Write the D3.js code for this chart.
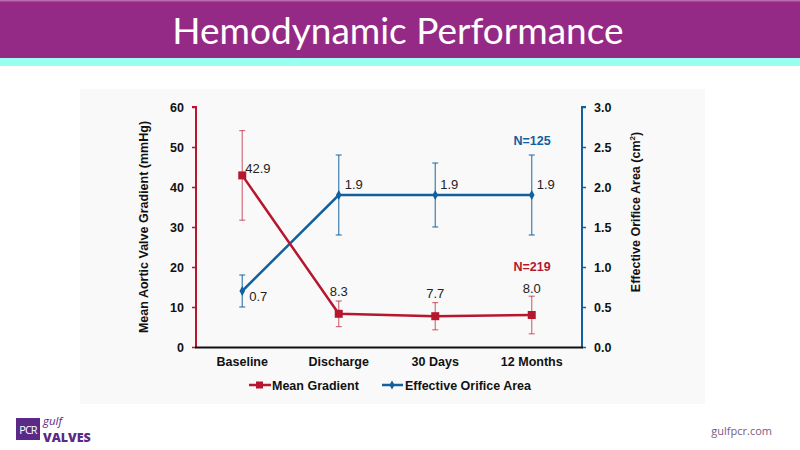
<!DOCTYPE html>
<html><head><meta charset="utf-8">
<script src="https://cdn.jsdelivr.net/npm/d3@7"></script>
<style>html,body{margin:0;padding:0;background:#fff;}svg{display:block;}</style>
</head><body>
<svg id="c" width="800" height="450"></svg>
<script>
const categories = ["Baseline", "Discharge", "30 Days", "12 Months"];
const gradientMean = [42.9, 8.3, 7.7, 8.0];
const gradientErr = [11.2, 3.2, 3.4, 4.7];
const eoaMean = [0.7, 1.9, 1.9, 1.9];
const eoaErr = [0.2, 0.5, 0.4, 0.5];
const gradientLabels = ["42.9", "8.3", "7.7", "8.0"];
const eoaLabels = ["0.7", "1.9", "1.9", "1.9"];
const leftTicks = [0, 10, 20, 30, 40, 50, 60];
const rightTicks = [0, 0.5, 1.0, 1.5, 2.0, 2.5, 3.0];

const red = "#B5172F", blue = "#12609E";
const svg = d3.select("#c");

// header
svg.append("rect").attr("x",0).attr("y",0).attr("width",800).attr("height",58).attr("fill","#952A86");
svg.append("rect").attr("x",0).attr("y",0).attr("width",800).attr("height",1.5).attr("fill","#B96BAE");
svg.append("rect").attr("x",0).attr("y",58).attr("width",800).attr("height",8).attr("fill","#99FFF1");
svg.append("text").attr("x",398).attr("y",44).attr("text-anchor","middle")
  .attr("font-family","Lato, 'Open Sans', sans-serif").attr("font-size",37).attr("fill","#fff")
  .text("Hemodynamic Performance");

// panel
svg.append("rect").attr("x",80).attr("y",89).attr("width",625).attr("height",315).attr("fill","#F9F9F9");

const x = d3.scaleBand().domain(categories).range([196, 582]);
const yL = d3.scaleLinear().domain([0, 60]).range([347, 107]);
const yR = d3.scaleLinear().domain([0, 3]).range([347, 107]);
const cx = d => x(d) + x.bandwidth()/2 - 2;

const font = "'Liberation Sans', Arial, sans-serif";

// axes
const gL = svg.append("g").attr("transform","translate(196,0)")
  .call(d3.axisLeft(yL).tickValues(leftTicks).tickSize(4).tickFormat(d3.format("d")));
gL.select(".domain").attr("stroke", red).attr("stroke-width",2).attr("d","M-4,107H0V347");
gL.selectAll(".tick line").attr("stroke", red).attr("stroke-width",1.5);
gL.selectAll(".tick text").attr("font-family",font).attr("font-weight","bold").attr("font-size",12.5).attr("fill","#111").attr("x",-12);

const gR = svg.append("g").attr("transform","translate(582,0)")
  .call(d3.axisRight(yR).tickValues(rightTicks).tickSize(4).tickFormat(d3.format(".1f")));
gR.select(".domain").attr("stroke", blue).attr("stroke-width",2).attr("d","M4,107H0V347");
gR.selectAll(".tick line").attr("stroke", blue).attr("stroke-width",1.5);
gR.selectAll(".tick text").attr("font-family",font).attr("font-weight","bold").attr("font-size",12.5).attr("fill","#111").attr("x",12);

// x axis baseline
svg.append("line").attr("x1",195).attr("x2",583).attr("y1",347.5).attr("y2",347.5).attr("stroke","#111").attr("stroke-width",2);
svg.append("g").selectAll("text").data(categories).join("text")
  .attr("x", d => cx(d)).attr("y", 366).attr("text-anchor","middle")
  .attr("font-family",font).attr("font-weight","bold").attr("font-size",12.5).attr("fill","#111").text(d => d);

// axis titles
svg.append("text").attr("transform","translate(148,227) rotate(-90)").attr("text-anchor","middle")
  .attr("font-family",font).attr("font-weight","bold").attr("font-size",12.5).attr("fill","#111")
  .text("Mean Aortic Valve Gradient (mmHg)");
const rt = svg.append("text").attr("transform","translate(640,212) rotate(-90)").attr("text-anchor","middle")
  .attr("font-family",font).attr("font-weight","bold").attr("font-size",12.5).attr("fill","#111");
rt.append("tspan").text("Effective Orifice Area (cm");
rt.append("tspan").attr("font-size",8).attr("dy",-5).text("2");
rt.append("tspan").attr("dy",5).text(")");

// error bars
function errBars(means, errs, scale, color, opacity) {
  const g = svg.append("g").attr("stroke", color).attr("stroke-width",1.2).attr("stroke-opacity",opacity);
  categories.forEach((c,i) => {
    const X = cx(c), t = scale(means[i]+errs[i]), b = scale(means[i]-errs[i]);
    g.append("line").attr("x1",X).attr("x2",X).attr("y1",t).attr("y2",b);
    g.append("line").attr("x1",X-3).attr("x2",X+3).attr("y1",t).attr("y2",t);
    g.append("line").attr("x1",X-3).attr("x2",X+3).attr("y1",b).attr("y2",b);
  });
}
errBars(eoaMean, eoaErr, yR, blue, 0.8);
errBars(gradientMean, gradientErr, yL, red, 0.6);

// lines
const lineL = d3.line().x((d,i) => cx(categories[i])).y(d => yL(d));
const lineR = d3.line().x((d,i) => cx(categories[i])).y(d => yR(d));
svg.append("path").attr("d", lineR(eoaMean)).attr("fill","none").attr("stroke",blue).attr("stroke-width",2.5);
svg.append("path").attr("d", lineL(gradientMean)).attr("fill","none").attr("stroke",red).attr("stroke-width",2.5);

// markers
svg.append("g").selectAll("path").data(eoaMean).join("path")
  .attr("d", d3.symbol(d3.symbolDiamond, 28)())
  .attr("transform",(d,i)=>`translate(${cx(categories[i])},${yR(d)})`).attr("fill",blue);
svg.append("g").selectAll("rect").data(gradientMean).join("rect")
  .attr("x",(d,i)=>cx(categories[i])-4).attr("y",d=>yL(d)-4).attr("width",8).attr("height",8).attr("fill",red);

// data labels
const lblStyle = s => s.attr("font-family",font).attr("font-size",13).attr("fill","#222");
const gradOff = [[3,-2,"start"],[0,-18,"middle"],[0,-18,"middle"],[0,-22,"middle"]];
svg.append("g").selectAll("text").data(gradientMean).join("text")
  .attr("x",(d,i)=>cx(categories[i])+gradOff[i][0]).attr("y",(d,i)=>yL(d)+gradOff[i][1])
  .attr("text-anchor",(d,i)=>gradOff[i][2]).call(lblStyle).text((d,i)=>gradientLabels[i]);
const eoaOff = [[7,10],[6,-6],[5,-6],[5,-6]];
svg.append("g").selectAll("text").data(eoaMean).join("text")
  .attr("x",(d,i)=>cx(categories[i])+eoaOff[i][0]).attr("y",(d,i)=>yR(d)+eoaOff[i][1])
  .attr("text-anchor","start").call(lblStyle).text((d,i)=>eoaLabels[i]);

// N labels
svg.append("text").attr("x",532).attr("y",145).attr("text-anchor","middle").attr("font-family",font)
  .attr("font-weight","bold").attr("font-size",12.5).attr("fill",blue).text("N=125");
svg.append("text").attr("x",532).attr("y",271).attr("text-anchor","middle").attr("font-family",font)
  .attr("font-weight","bold").attr("font-size",12.5).attr("fill",red).text("N=219");

// legend
const lg = svg.append("g");
lg.append("line").attr("x1",249).attr("x2",271).attr("y1",385).attr("y2",385).attr("stroke",red).attr("stroke-width",2.5);
lg.append("rect").attr("x",256).attr("y",381.5).attr("width",7).attr("height",7).attr("fill",red);
lg.append("text").attr("x",272).attr("y",389.5).attr("font-family",font).attr("font-weight","bold").attr("font-size",12.5).attr("fill","#111").text("Mean Gradient");
lg.append("line").attr("x1",382).attr("x2",403).attr("y1",385).attr("y2",385).attr("stroke",blue).attr("stroke-width",2.5);
lg.append("path").attr("d", d3.symbol(d3.symbolDiamond, 24)()).attr("transform","translate(392,385)").attr("fill",blue);
lg.append("text").attr("x",405).attr("y",389.5).attr("font-family",font).attr("font-weight","bold").attr("font-size",12.5).attr("fill","#111").text("Effective Orifice Area");

// footer logo
svg.append("rect").attr("x",16).attr("y",418).attr("width",24).attr("height",22).attr("fill","#5B2A86");
svg.append("text").attr("x",28).attr("y",434).attr("text-anchor","middle").attr("font-family","'Open Sans', sans-serif")
  .attr("font-size",11).attr("letter-spacing",-1).attr("fill","#fff").text("PCR");
svg.append("text").attr("x",43).attr("y",424.5).attr("font-family","'Open Sans', sans-serif").attr("font-style","italic")
  .attr("font-size",11.5).attr("fill","#5B2A86").text("gulf");
svg.append("text").attr("x",43).attr("y",442).attr("font-family","'Open Sans', sans-serif").attr("font-weight","800")
  .attr("font-size",12.5).attr("fill","#5B2A86").text("VALVES");
svg.append("text").attr("x",772).attr("y",435).attr("text-anchor","end").attr("font-family","'Open Sans', sans-serif")
  .attr("font-size",11).attr("fill","#7A5A88").text("gulfpcr.com");
</script>
</body></html>
